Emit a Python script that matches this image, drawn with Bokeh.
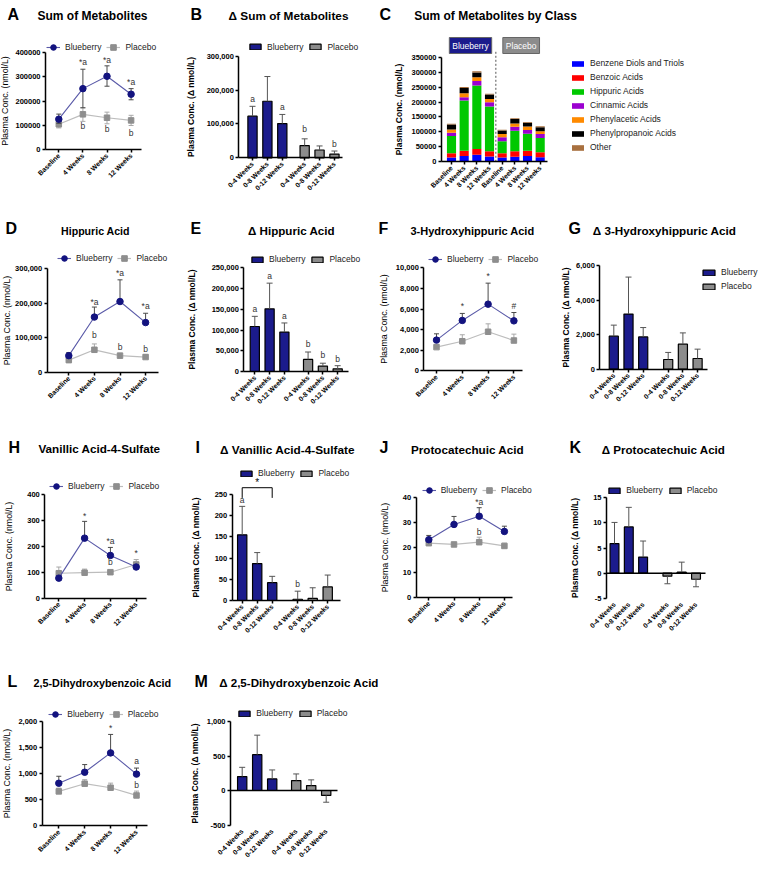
import math
from bokeh.plotting import figure
from bokeh.models import (Range1d, FixedTicker, NumeralTickFormatter, Legend,
                          LegendItem, Label, ColumnDataSource)
from bokeh.layouts import row, column
from bokeh.embed import file_html
from bokeh.resources import INLINE
from bokeh.core.properties import value

FONT = "Liberation Sans"

# ======================= DATA =======================
TIME_LABELS = ["Baseline", "4 Weeks", "8 Weeks", "12 Weeks"]
DELTA_LABELS = ["0-4 Weeks", "0-8 Weeks", "0-12 Weeks"]

# A  Sum of Metabolites (nmol/L)
A_bb = [125000, 251000, 302000, 228000]
A_bb_hi = [146000, 331000, 345000, 251000]
A_bb_lo = [108000, 172000, 261000, 205000]
A_pl = [104000, 145000, 131000, 120000]
A_pl_hi = [116000, 172000, 154000, 141000]
A_pl_lo = [89000, 116000, 106000, 99000]
A_sig_bb = ["", "*a", "*a", "*a"]
A_sig_bb_y = [None, 359000, 368000, 279000]
A_sig_pl = ["", "b", "b", "b"]
A_sig_pl_y = [None, 95000, 83000, 69000]

# B  Delta Sum of Metabolites
B_bb = [123000, 167000, 101000]
B_bb_err = [152000, 240000, 128000]
B_pl = [36000, 23000, 11000]
B_pl_err = [56000, 35000, 20000]
B_sig_bb = ["a", "", "a"]
B_sig_bb_y = [174000, None, 151000]
B_sig_pl = ["b", "", "b"]
B_sig_pl_y = [86000, None, 41000]

# C  Sum of Metabolites by Class (stacked)
C_x_labels = TIME_LABELS + TIME_LABELS
C_classes = ["Benzene Diols and Triols", "Benzoic Acids", "Hippuric Acids",
             "Cinnamic Acids", "Phenylacetic Acids", "Phenylpropanoic Acids", "Other"]
C_benzene = [14500, 19000, 24000, 18000, 14000, 17000, 19000, 15000]
C_benzoic = [14500, 18000, 19000, 17000, 15000, 18000, 18000, 17000]
C_hippuric = [57000, 168000, 212000, 150000, 40000, 69000, 57000, 48000]
C_cinnamic = [11000, 11000, 15000, 14000, 13000, 13000, 12000, 13000]
C_phenylacetic = [11000, 13000, 13000, 11000, 11000, 11000, 12000, 9000]
C_phenylpropanoic = [17000, 18000, 16000, 15000, 12000, 15000, 13000, 14000]
C_other = [2000, 3000, 4000, 3000, 2000, 3000, 2000, 3000]

# D  Hippuric Acid
D_bb = [48000, 160000, 205000, 144000]
D_bb_hi = [57000, 189000, 268000, 171000]
D_pl = [35000, 65000, 48000, 44000]
D_pl_hi = [42000, 82000, 55000, 51000]
D_sig_bb = ["", "*a", "*a", "*a"]
D_sig_bb_y = [None, 205000, 288000, 192000]
D_sig_pl = ["", "b", "b", "b"]
D_sig_pl_y = [None, 108000, 73000, 68000]

# E  Delta Hippuric Acid
E_bb = [108500, 151000, 95000]
E_bb_err = [133000, 213000, 117000]
E_pl = [29000, 13000, 6500]
E_pl_err = [47000, 20000, 14000]
E_sig_bb = ["a", "a", "a"]
E_sig_bb_y = [151000, 231000, 135000]
E_sig_pl = ["b", "b", "b"]
E_sig_pl_y = [67000, 40000, 31000]

# F  3-Hydroxyhippuric Acid
F_bb = [2980, 4890, 6470, 4850]
F_bb_hi = [3590, 5570, 8510, 5660]
F_pl = [2300, 2870, 3790, 2940]
F_pl_hi = [2450, 3500, 4560, 3560]
F_sig_bb = ["", "*", "*", "#"]
F_sig_bb_y = [None, 6280, 9160, 6280]

# G  Delta 3-Hydroxyhippuric Acid
G_bb = [1910, 3190, 1870]
G_bb_err = [2550, 5330, 2410]
G_pl = [560, 1450, 620]
G_pl_err = [970, 2100, 1160]

# H  Vanillic Acid-4-Sulfate
H_bb = [77, 232, 165, 120]
H_bb_hi = [85, 297, 196, 128]
H_pl = [96, 98, 100, 130]
H_pl_hi = [120, 112, 108, 149]
H_sig_bb = ["", "*", "*a", "*"]
H_sig_bb_y = [None, 319, 219, 174]
H_sig_pl = ["", "", "b", ""]
H_sig_pl_y = [None, None, 138, None]

# I  Delta Vanillic Acid-4-Sulfate
I_bb = [155, 87, 42]
I_bb_err = [222, 113, 57]
I_pl = [3, 5, 32]
I_pl_err = [22, 30, 60]
I_sig_bb = ["a", "", ""]
I_sig_bb_y = [236, None, None]
I_sig_pl = ["b", "", ""]
I_sig_pl_y = [40, None, None]
I_bracket = {"from": 0, "to": 2, "y": 266, "leg": 242, "text": "*"}

# J  Protocatechuic Acid
J_bb = [23.0, 29.1, 32.4, 26.3]
J_bb_hi = [24.7, 32.3, 35.8, 28.4]
J_pl = [21.6, 21.1, 22.0, 20.5]
J_pl_hi = [22.5, 21.8, 24.0, 21.6]
J_sig_bb = ["", "", "*a", ""]
J_sig_bb_y = [None, None, 38, None]
J_sig_pl = ["", "", "b", ""]
J_sig_pl_y = [None, None, 26, None]

# K  Delta Protocatechuic Acid
K_bb = [5.9, 9.2, 3.2]
K_bb_err = [10.1, 13.1, 6.4]
K_pl = [-0.6, 0.2, -1.2]
K_pl_err = [-2.1, 2.2, -2.7]

# L  2,5-Dihydroxybenzoic Acid
L_bb = [816, 1027, 1398, 991]
L_bb_hi = [950, 1174, 1752, 1107]
L_pl = [660, 807, 730, 582]
L_pl_hi = [722, 884, 818, 665]
L_sig_bb = ["", "", "*", "a"]
L_sig_bb_y = [None, None, 1874, 1242]
L_sig_pl = ["", "", "", "b"]
L_sig_pl_y = [None, None, None, 780]

# M  Delta 2,5-Dihydroxybenzoic Acid
M_bb = [202, 519, 168]
M_bb_err = [336, 802, 298]
M_pl = [144, 72, -72]
M_pl_err = [240, 154, -170]

# ======================= STYLE / LAYOUT =======================
BB_BAR = "#1b1b8c"
PL_BAR = "#8c8c8c"
BB_LINE = "#5a5aa8"
BB_MARK = "#13137f"
PL_LINE = "#bdbdbd"
PL_MARK = "#8e8e8e"
ERR_BB = "#4a4a4a"
ERR_PL = "#a8a8a8"
ERR_BAR = "#555555"
C_COLORS = ["#0000ff", "#ff0000", "#00c800", "#9b00d0", "#ff8a00", "#000000", "#a8703f"]

LINE_POS = [0, 1, 2, 3]
C_POS = [1, 2, 3, 4, 5, 6, 7, 8]


def bar_pos(gap):
    return [10, 20, 30, 30 + gap, 40 + gap, 50 + gap]


SPEC = {
    "A": dict(cell=(0, 0, 185, 210), ax=45, xmap=(58.3, 24.1), xend=141, ymap=(149, 52), lstand=2,
              leg=(46, 47), letter=(7, 14), title=(92, 15), tsize=12),
    "B": dict(cell=(185, 0, 190, 210), ax=238.3, xmap=(252, 1.49), xend=341.7, ymap=(157.3, 55.7), lstand=7,
              leg=(248, 46.7), letter=(190, 14), title=(288, 15), gap=15, tsize=11.8),
    "C": dict(cell=(375, 0, 385, 210), ax=441, xmap=(451, 12.67), xend=547.3, ymap=(161.3, 56.7), lstand=4,
              leg=(570, 58), letter=(379, 14), title=(495, 15), tsize=12),
    "D": dict(cell=(0, 210, 185, 205), ax=46.7, xmap=(68.3, 25.6), xend=158, ymap=(371.7, 268.3), lstand=0,
              leg=(57, 258), letter=(5, 228), title=(95, 230), tsize=10.6),
    "E": dict(cell=(185, 210, 190, 205), ax=243.3, xmap=(254.3, 1.48), xend=348, ymap=(371, 267.3), lstand=11,
              leg=(250, 259.3), letter=(190, 228), title=(291, 230), gap=16, tsize=11.6),
    "F": dict(cell=(375, 210, 185, 205), ax=423.3, xmap=(436, 25.8), xend=522, ymap=(370.3, 267.3), lstand=4,
              leg=(428, 259.3), letter=(378, 228), title=(472, 230), tsize=11),
    "G": dict(cell=(560, 210, 200, 205), ax=599.3, xmap=(613.3, 1.47), xend=706.7, ymap=(368.7, 265), lstand=2,
              leg=(701, 267), letter=(568, 228), title=(664, 230), gap=17, tsize=11.7),
    "H": dict(cell=(0, 415, 185, 245), ax=44.3, xmap=(58.3, 25.8), xend=146, ymap=(597.5, 494.3), lstand=10,
              leg=(49, 485.7), letter=(8, 447), title=(99, 448), tsize=11.7),
    "I": dict(cell=(185, 415, 190, 245), ax=231.7, xmap=(241.7, 1.5), xend=340, ymap=(600, 494), lstand=11,
              leg=(239, 473.3), letter=(195, 447), title=(287, 449), gap=17, tsize=11.8),
    "J": dict(cell=(375, 415, 185, 245), ax=415.7, xmap=(428.3, 25.2), xend=512, ymap=(596.7, 496.7), lstand=10,
              leg=(421.7, 490), letter=(379, 447), title=(467, 449), tsize=11.7),
    "K": dict(cell=(560, 415, 200, 245), ax=606, xmap=(614, 1.43), xend=705, ymap=(572.7, 497.3), lstand=10,
              leg=(607.3, 490), letter=(569, 447), title=(663, 449), gap=17, tsize=11.6),
    "L": dict(cell=(0, 660, 190, 210), ax=41.7, xmap=(58.3, 25.9), xend=147, ymap=(825.3, 721), lstand=4,
              leg=(48.3, 714.3), letter=(7, 681), title=(102, 682), tsize=10.8),
    "M": dict(cell=(190, 660, 190, 210), ax=230, xmap=(241.7, 1.5), xend=337, ymap=(790, 721), lstand=4,
              leg=(237.3, 713.3), letter=(194, 681), title=(298.5, 682), gap=16, tsize=11.6),
}


# ======================= HELPERS =======================
def setup(spec, xticks, xlabels, ybounds, yticks, yfmt, ylabel, ylabel_bold):
    cx, cy, cw, ch = spec["cell"]
    fpx, upx = spec["xmap"]
    y0px, ytpx = spec["ymap"]
    ymin, ymax = ybounds
    sy = (y0px - ytpx) / ymax

    def x_at(px):
        return xticks[0] + (px - fpx) / upx

    def y_at(px):
        return (y0px - px) / sy

    p = figure(width=cw, height=ch, title=None,
               x_range=Range1d(x_at(cx), x_at(cx + cw)),
               y_range=Range1d(y_at(cy + ch), y_at(cy)),
               min_border_left=0, min_border_right=0, min_border_top=0,
               min_border_bottom=0, toolbar_location=None, output_backend="svg")
    p.outline_line_color = None
    p.xgrid.visible = False
    p.ygrid.visible = False
    p.background_fill_color = "white"
    p.border_fill_color = "white"

    xa = p.xaxis[0]
    xa.fixed_location = ymin
    xa.ticker = FixedTicker(ticks=xticks)
    xa.major_label_overrides = {t: lab for t, lab in zip(xticks, xlabels)}
    xa.major_label_orientation = math.pi / 4
    xa.bounds = (x_at(spec["ax"]), x_at(spec["xend"]))
    xa.major_label_text_font_size = "6.8px"

    ya = p.yaxis[0]
    ya.fixed_location = x_at(spec["ax"])
    ya.ticker = FixedTicker(ticks=yticks)
    ya.bounds = (ymin, ymax)
    ya.formatter = NumeralTickFormatter(format=yfmt)
    ya.major_label_text_font_size = "7.5px"
    ya.axis_label = ylabel
    ya.axis_label_text_font = FONT
    ya.axis_label_text_font_size = "8.5px" if ylabel_bold else "8.8px"
    ya.axis_label_text_font_style = "bold" if ylabel_bold else "normal"
    ya.axis_label_standoff = spec["lstand"]
    ya.axis_label_text_color = "black"

    for ax in (xa, ya):
        ax.axis_line_width = 1.5
        ax.axis_line_color = "black"
        ax.major_tick_line_width = 1.5
        ax.major_tick_line_color = "black"
        ax.major_tick_out = 3
        ax.major_tick_in = 0
        ax.minor_tick_line_color = None
        ax.major_label_text_font = FONT
        ax.major_label_text_font_style = "bold"
        ax.major_label_text_color = "black"
        ax.major_label_standoff = 2

    geo = dict(fl=cx, fb=cy + ch, x_at=x_at, y_at=y_at,
               xs=x_at(spec["ax"]), xe=x_at(spec["xend"]))
    return p, geo


def put_text(p, geo, x_abs, y_abs, text, size, style="bold", align="center"):
    p.add_layout(Label(x=x_abs - geo["fl"], y=geo["fb"] - y_abs,
                       x_units="screen", y_units="screen", text=text,
                       text_font=FONT, text_font_size=size, text_font_style=style,
                       text_align=align, text_baseline="middle", text_color="black"))


def titles(p, geo, spec, letter, title):
    lx, ly = spec["letter"]
    tx, ty = spec["title"]
    put_text(p, geo, lx, ly, letter, "16px", align="left")
    put_text(p, geo, tx, ty, title, "%spx" % spec["tsize"])


def put_legend(p, geo, items, left_abs, top_abs, orientation="horizontal",
               glyph_w=14, glyph_h=14, spacing=5):
    n = len(items)
    item_h = max(glyph_h, 10)
    h = item_h if orientation == "horizontal" else n * item_h + (n - 1) * spacing
    lg = Legend(items=items, orientation=orientation,
                location=(left_abs - geo["fl"], geo["fb"] - (top_abs + h)),
                padding=0, margin=0, spacing=spacing,
                glyph_width=glyph_w, glyph_height=glyph_h,
                label_height=10, label_width=10, label_standoff=5,
                border_line_color=None, background_fill_alpha=0,
                label_text_font=FONT, label_text_font_size="8.5px",
                label_text_color="#222222")
    p.add_layout(lg)


def errbars(p, xs, base, ends, color, cap=5):
    p.segment(x0=xs, y0=base, x1=xs, y1=ends, line_color=color, line_width=1)
    p.scatter(x=xs, y=ends, marker="dash", size=cap, line_color=color, line_width=1)


def sig_text(p, xs, labels, ys):
    pts = [(x, y, t) for x, y, t in zip(xs, ys, labels) if t]
    if not pts:
        return
    p.text(x=[a[0] for a in pts], y=[a[1] for a in pts], text=[a[2] for a in pts],
           text_font=value(FONT), text_font_size="8.5px", text_align="center",
           text_baseline="middle", text_color="#333333")


def line_panel(key, title, bb, bb_hi, pl, pl_hi, ybounds, yticks, yfmt,
               bb_lo=None, pl_lo=None, sigs=()):
    spec = SPEC[key]
    p, g = setup(spec, LINE_POS, TIME_LABELS, ybounds, yticks, yfmt,
                 "Plasma Conc. (nmol/L)", False)
    errbars(p, LINE_POS, pl, pl_hi, ERR_PL)
    if pl_lo:
        errbars(p, LINE_POS, pl, pl_lo, ERR_PL)
    lpl = p.line(LINE_POS, pl, line_color=PL_LINE, line_width=1.2)
    spl = p.scatter(LINE_POS, pl, marker="square", size=5.5, fill_color=PL_MARK, line_color=PL_MARK)
    errbars(p, LINE_POS, bb, bb_hi, ERR_BB)
    if bb_lo:
        errbars(p, LINE_POS, bb, bb_lo, ERR_BB)
    lbb = p.line(LINE_POS, bb, line_color=BB_LINE, line_width=1.1)
    sbb = p.scatter(LINE_POS, bb, marker="circle", size=6.5, fill_color=BB_MARK, line_color=BB_MARK)
    for labels, ys in sigs:
        sig_text(p, LINE_POS, labels, ys)
    lx, ly = spec["leg"]
    put_legend(p, g, [LegendItem(label="Blueberry", renderers=[lbb, sbb]),
                      LegendItem(label="Placebo", renderers=[lpl, spl])],
               lx, ly - 7, glyph_w=14, glyph_h=14, spacing=5)
    titles(p, g, spec, key, title)
    return p, g


def bar_panel(key, title, bb, bb_err, pl, pl_err, ybounds, yticks, yfmt,
              sigs_bb=None, sigs_pl=None, legend_vertical=False):
    spec = SPEC[key]
    pos = bar_pos(spec["gap"])
    p, g = setup(spec, pos, DELTA_LABELS + DELTA_LABELS, ybounds, yticks, yfmt,
                 "Plasma Conc. (\u0394 nmol/L)", True)
    rb = p.vbar(x=pos[:3], top=bb, width=6.2, fill_color=BB_BAR, line_color="black", line_width=1.2)
    rp = p.vbar(x=pos[3:], top=pl, width=6.2, fill_color=PL_BAR, line_color="black", line_width=1.2)
    errbars(p, pos[:3], bb, bb_err, ERR_BAR, cap=6)
    errbars(p, pos[3:], pl, pl_err, ERR_BAR, cap=6)
    if ybounds[0] < 0:
        xa = p.xaxis[0]
        xa.axis_line_color = None
        xa.major_tick_line_color = None
        p.segment(x0=[g["xs"]], y0=[0], x1=[g["xe"]], y1=[0], line_color="black", line_width=1.5)
    if sigs_bb:
        sig_text(p, pos[:3], sigs_bb[0], sigs_bb[1])
    if sigs_pl:
        sig_text(p, pos[3:], sigs_pl[0], sigs_pl[1])
    lx, ly = spec["leg"]
    items = [LegendItem(label="Blueberry", renderers=[rb]), LegendItem(label="Placebo", renderers=[rp])]
    if legend_vertical:
        put_legend(p, g, items, lx, ly, orientation="vertical", glyph_w=15, glyph_h=7, spacing=4)
    else:
        put_legend(p, g, items, lx, ly - 5, glyph_w=14, glyph_h=7, spacing=5)
    titles(p, g, spec, key, title)
    return p, g, pos


# ======================= PANELS =======================
pA, gA = line_panel("A", "Sum of Metabolites", A_bb, A_bb_hi, A_pl, A_pl_hi, (0, 400000),
                    [0, 100000, 200000, 300000, 400000], "0", bb_lo=A_bb_lo, pl_lo=A_pl_lo,
                    sigs=[(A_sig_bb, A_sig_bb_y), (A_sig_pl, A_sig_pl_y)])

pB, gB, _ = bar_panel("B", "\u0394 Sum of Metabolites", B_bb, B_bb_err, B_pl, B_pl_err, (0, 300000),
                      [0, 100000, 200000, 300000], "0,0",
                      sigs_bb=(B_sig_bb, B_sig_bb_y), sigs_pl=(B_sig_pl, B_sig_pl_y))

# C stacked
specC = SPEC["C"]
pC, gC = setup(specC, C_POS, C_x_labels, (0, 350000),
               [0, 50000, 100000, 150000, 200000, 250000, 300000, 350000], "0",
               "Plasma Conc. (nmol/L)", True)
C_stack = [C_benzene, C_benzoic, C_hippuric, C_cinnamic, C_phenylacetic, C_phenylpropanoic, C_other]
C_keys = ["c%d" % i for i in range(len(C_stack))]
srcC = ColumnDataSource(dict(x=C_POS, **{k: v for k, v in zip(C_keys, C_stack)}))
rsC = pC.vbar_stack(C_keys, x="x", width=0.72, color=C_COLORS, source=srcC, line_color=None)
sepx = (C_POS[3] + C_POS[4]) / 2
pC.segment(x0=[sepx], y0=[0], x1=[sepx], y1=[gC["y_at"](50)], line_dash="2 2",
           line_color="#555555", line_width=1)
for grp, xs_, fill in (("Blueberry", C_POS[:4], BB_BAR), ("Placebo", C_POS[4:], PL_BAR)):
    pC.add_layout(Label(x=sum(xs_) / len(xs_), y=gC["y_at"](45), text=grp,
                        text_font=FONT, text_font_size="8.5px", text_color="white",
                        text_align="center", text_baseline="middle",
                        background_fill_color=fill, border_line_color="#666666",
                        padding=3))
put_legend(pC, gC, [LegendItem(label=c, renderers=[r]) for c, r in zip(C_classes, rsC)],
           specC["leg"][0], specC["leg"][1], orientation="vertical", glyph_w=15, glyph_h=7, spacing=4)
titles(pC, gC, specC, "C", "Sum of Metabolites by Class")

pD, gD = line_panel("D", "Hippuric Acid", D_bb, D_bb_hi, D_pl, D_pl_hi, (0, 300000),
                    [0, 100000, 200000, 300000], "0,0",
                    sigs=[(D_sig_bb, D_sig_bb_y), (D_sig_pl, D_sig_pl_y)])

pE, gE, _ = bar_panel("E", "\u0394 Hippuric Acid", E_bb, E_bb_err, E_pl, E_pl_err, (0, 250000),
                      [0, 50000, 100000, 150000, 200000, 250000], "0,0",
                      sigs_bb=(E_sig_bb, E_sig_bb_y), sigs_pl=(E_sig_pl, E_sig_pl_y))

pF, gF = line_panel("F", "3-Hydroxyhippuric Acid", F_bb, F_bb_hi, F_pl, F_pl_hi, (0, 10000),
                    [0, 2000, 4000, 6000, 8000, 10000], "0,0",
                    sigs=[(F_sig_bb, F_sig_bb_y)])

pG, gG, _ = bar_panel("G", "\u0394 3-Hydroxyhippuric Acid", G_bb, G_bb_err, G_pl, G_pl_err, (0, 6000),
                      [0, 2000, 4000, 6000], "0,0", legend_vertical=True)

pH, gH = line_panel("H", "Vanillic Acid-4-Sulfate", H_bb, H_bb_hi, H_pl, H_pl_hi, (0, 400),
                    [0, 100, 200, 300, 400], "0,0",
                    sigs=[(H_sig_bb, H_sig_bb_y), (H_sig_pl, H_sig_pl_y)])

pI, gI, posI = bar_panel("I", "\u0394 Vanillic Acid-4-Sulfate", I_bb, I_bb_err, I_pl, I_pl_err, (0, 250),
                         [0, 50, 100, 150, 200, 250], "0,0",
                         sigs_bb=(I_sig_bb, I_sig_bb_y), sigs_pl=(I_sig_pl, I_sig_pl_y))
bx0 = posI[I_bracket["from"]]
bx1 = posI[I_bracket["to"]]
pI.line(x=[bx0, bx0, bx1, bx1], y=[I_bracket["leg"], I_bracket["y"], I_bracket["y"], I_bracket["leg"]],
        line_color="black", line_width=1)
pI.text(x=[(bx0 + bx1) / 2], y=[I_bracket["y"]], text=[I_bracket["text"]],
        text_font=value(FONT), text_font_size="10px", text_align="center",
        text_baseline="bottom", text_color="black")

pJ, gJ = line_panel("J", "Protocatechuic Acid", J_bb, J_bb_hi, J_pl, J_pl_hi, (0, 40),
                    [0, 10, 20, 30, 40], "0,0",
                    sigs=[(J_sig_bb, J_sig_bb_y), (J_sig_pl, J_sig_pl_y)])

pK, gK, _ = bar_panel("K", "\u0394 Protocatechuic Acid", K_bb, K_bb_err, K_pl, K_pl_err, (-5, 15),
                      [-5, 0, 5, 10, 15], "0,0")

pL, gL = line_panel("L", "2,5-Dihydroxybenzoic Acid", L_bb, L_bb_hi, L_pl, L_pl_hi, (0, 2000),
                    [0, 500, 1000, 1500, 2000], "0,0",
                    sigs=[(L_sig_bb, L_sig_bb_y), (L_sig_pl, L_sig_pl_y)])

pM, gM, _ = bar_panel("M", "\u0394 2,5-Dihydroxybenzoic Acid", M_bb, M_bb_err, M_pl, M_pl_err, (-500, 1000),
                      [-500, 0, 500, 1000], "0,0")

layout = column(row(pA, pB, pC), row(pD, pE, pF, pG), row(pH, pI, pJ, pK), row(pL, pM))

open("out.html", "w").write(file_html(layout, INLINE, title="Plasma metabolites"))
